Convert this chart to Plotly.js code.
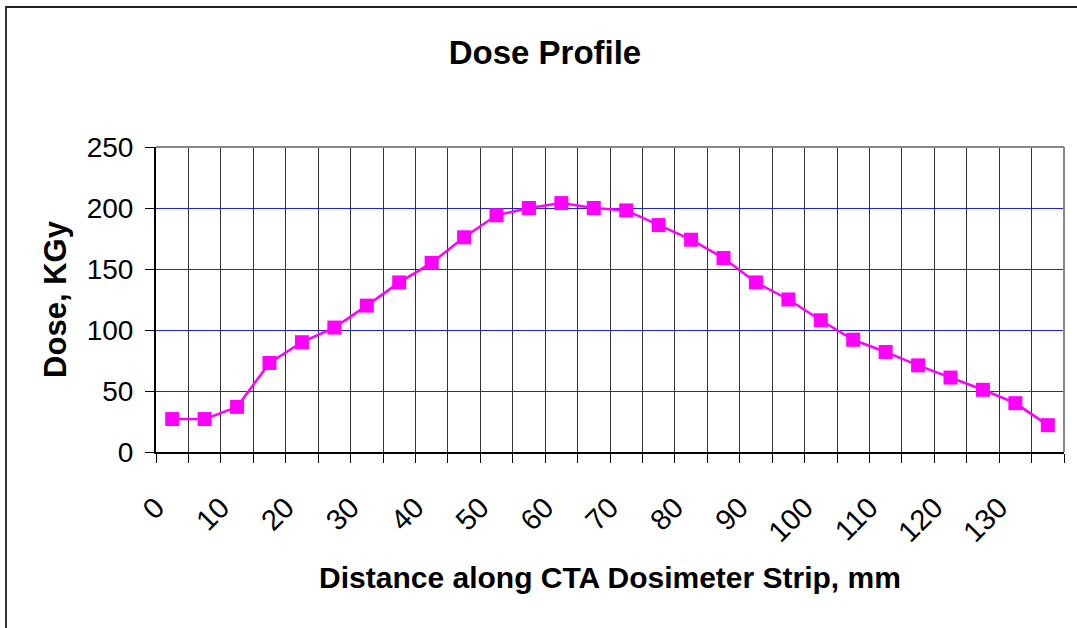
<!DOCTYPE html>
<html>
<head>
<meta charset="utf-8">
<script src="https://cdn.plot.ly/plotly-3.0.1.min.js"></script>
<style>
  html, body { margin: 0; padding: 0; background: #fff; }
  #wrap { position: relative; width: 1077px; height: 628px; overflow: hidden; }
  #chart { position: absolute; left: 0; top: 0; width: 1077px; height: 628px; }
  #frame { position: absolute; left: 5px; top: 6px; width: 1100px; height: 700px;
           border-top: 2px solid #222; border-left: 2px solid #333; pointer-events: none; }
</style>
</head>
<body>
<div id="wrap">
  <div id="chart"></div>
  <div id="frame"></div>
</div>
<script>
// Distance along strip (mm), midpoints of 5 mm segments
const distance = [2.5, 7.5, 12.5, 17.5, 22.5, 27.5, 32.5, 37.5, 42.5, 47.5,
                  52.5, 57.5, 62.5, 67.5, 72.5, 77.5, 82.5, 87.5, 92.5, 97.5,
                  102.5, 107.5, 112.5, 117.5, 122.5, 127.5, 132.5, 137.5];
// Dose (KGy)
const dose = [27, 27, 37, 73, 90, 102, 120, 139, 155, 176,
              194, 200, 204, 200, 198, 186, 174, 159, 139, 125,
              108, 92, 82, 71, 61, 51, 40, 22];
// Axis tick positions and labels
const xTickVals = [0, 5, 10, 15, 20, 25, 30, 35, 40, 45, 50, 55, 60, 65, 70,
                   75, 80, 85, 90, 95, 100, 105, 110, 115, 120, 125, 130, 135, 140];
const xTickText = ['0', '', '10', '', '20', '', '30', '', '40', '', '50', '', '60', '', '70',
                   '', '80', '', '90', '', '100', '', '110', '', '120', '', '130', '', ''];
const yTickVals = [0, 50, 100, 150, 200, 250];

const FONT = 'Liberation Sans, Arial, sans-serif';

const trace = {
  x: distance,
  y: dose,
  type: 'scatter',
  mode: 'lines+markers',
  line: { color: '#ff00ff', width: 2.5 },
  marker: { symbol: 'square', size: 14, color: '#ff00ff' },
  showlegend: false,
  hoverinfo: 'x+y'
};

const layout = {
  width: 1077,
  height: 628,
  paper_bgcolor: '#ffffff',
  plot_bgcolor: '#ffffff',
  margin: { l: 156, r: 13, t: 147, b: 176 },
  font: { family: FONT, color: '#000' },
  title: {
    text: '<b>Dose Profile</b>',
    font: { family: FONT, size: 33, color: '#000' },
    xref: 'container', yref: 'container',
    x: 0.506, y: 0.917, xanchor: 'center', yanchor: 'middle'
  },
  xaxis: {
    type: 'linear',
    range: [0, 140],
    tickmode: 'array',
    tickvals: xTickVals,
    ticktext: xTickText,
    tickangle: -45,
    tickfont: { family: FONT, size: 29, color: '#000' },
    ticks: 'outside',
    ticklen: 9,
    tickcolor: '#000',
    tickwidth: 1,
    ticklabelstandoff: 16,
    showgrid: true,
    gridcolor: '#333333',
    gridwidth: 1,
    zeroline: false,
    showline: true,
    linecolor: '#000',
    linewidth: 2,
    fixedrange: true,
    title: {
      text: '<b>Distance along CTA Dosimeter Strip, mm</b>',
      font: { family: FONT, size: 30, color: '#000' },
      standoff: 20
    }
  },
  yaxis: {
    range: [0, 250],
    tickmode: 'array',
    tickvals: yTickVals,
    tickfont: { family: FONT, size: 28, color: '#000' },
    ticks: 'outside',
    ticklen: 9,
    tickcolor: '#000',
    tickwidth: 1,
    ticklabelstandoff: 6,
    showgrid: true,
    gridcolor: '#2020dd',
    gridwidth: 1,
    zeroline: false,
    showline: true,
    linecolor: '#000',
    linewidth: 2,
    fixedrange: true,
    title: {
      text: '<b>Dose, KGy</b>',
      font: { family: FONT, size: 31, color: '#000' },
      standoff: 11
    }
  },
  shapes: [
    { type: 'line', xref: 'paper', yref: 'paper', x0: 0, x1: 1, y0: 1, y1: 1,
      line: { color: '#888888', width: 2 } },
    { type: 'line', xref: 'paper', yref: 'paper', x0: 1, x1: 1, y0: 0, y1: 1,
      line: { color: '#888888', width: 2 } }
  ]
};

Plotly.newPlot('chart', [trace], layout, { displayModeBar: false, staticPlot: true });
</script>
</body>
</html>
